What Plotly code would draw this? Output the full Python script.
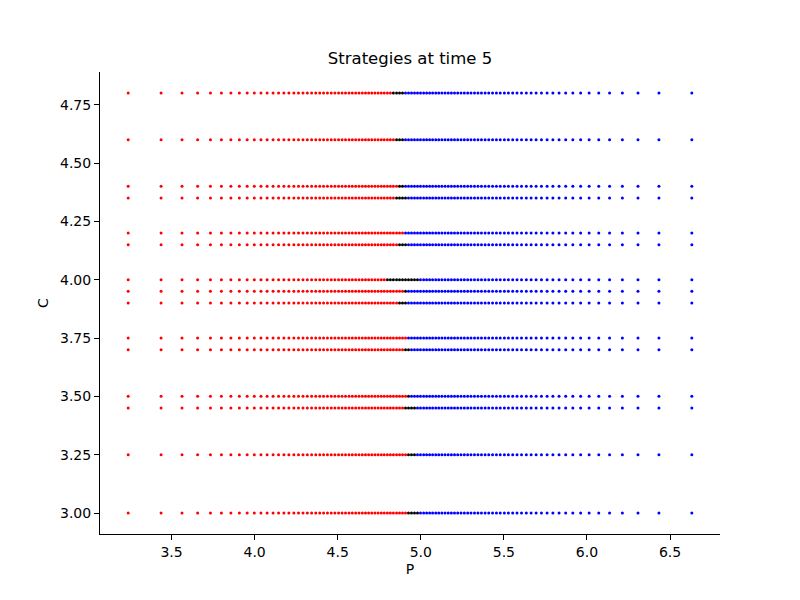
import plotly.graph_objects as go

# P values shared by every row (sorted ascending)
P_VALUES = [
    3.239, 3.437, 3.563, 3.657, 3.734, 3.800, 3.857, 3.908, 3.955, 3.998,
    4.038, 4.075, 4.111, 4.144, 4.176, 4.206, 4.236, 4.264, 4.291, 4.317,
    4.343, 4.368, 4.392, 4.415, 4.438, 4.461, 4.483, 4.505, 4.526, 4.547,
    4.568, 4.588, 4.608, 4.628, 4.648, 4.667, 4.686, 4.705, 4.724, 4.743,
    4.762, 4.780, 4.799, 4.817, 4.835, 4.854, 4.872, 4.890, 4.908, 4.926,
    4.944, 4.962, 4.980, 4.998, 5.017, 5.035, 5.053, 5.071, 5.090, 5.108,
    5.127, 5.146, 5.165, 5.184, 5.203, 5.222, 5.242, 5.262, 5.282, 5.302,
    5.323, 5.344, 5.365, 5.387, 5.409, 5.432, 5.455, 5.478, 5.503, 5.527,
    5.553, 5.579, 5.606, 5.635, 5.664, 5.694, 5.726, 5.760, 5.795, 5.832,
    5.872, 5.915, 5.962, 6.013, 6.071, 6.136, 6.213, 6.307, 6.433, 6.631,
]

# C levels (rows) and, per row, how many lowest-P points are red / then black
C_LEVELS = [4.8, 4.6, 4.4, 4.35, 4.2, 4.15, 4.0, 3.95, 3.9, 3.75, 3.7, 3.5, 3.45, 3.25, 3.0]
N_RED = [44, 45, 46, 45, 48, 46, 42, 48, 46, 49, 48, 49, 48, 49, 49]
N_BLACK = [4, 3, 2, 4, 0, 3, 11, 1, 3, 0, 2, 1, 4, 3, 4]

X_TICKS = [3.5, 4.0, 4.5, 5.0, 5.5, 6.0, 6.5]
Y_TICKS = [3.00, 3.25, 3.50, 3.75, 4.00, 4.25, 4.50, 4.75]

groups = {"red": ([], []), "black": ([], []), "blue": ([], [])}
for c, nr, nb in zip(C_LEVELS, N_RED, N_BLACK):
    for k, p in enumerate(P_VALUES):
        if k < nr:
            g = "red"
        elif k < nr + nb:
            g = "black"
        else:
            g = "blue"
        groups[g][0].append(p)
        groups[g][1].append(c)

colors = {"red": "#ff0000", "black": "#000000", "blue": "#0000ff"}
fig = go.Figure()
for g in ["red", "black", "blue"]:
    xs, ys = groups[g]
    fig.add_trace(go.Scatter(
        x=xs, y=ys, mode="markers", name=g, showlegend=False,
        marker=dict(color=colors[g], size=3, line=dict(width=0)),
        hoverinfo="x+y",
    ))

xmin, xmax = min(P_VALUES), max(P_VALUES)
xpad = 0.05 * (xmax - xmin)
ymin, ymax = min(C_LEVELS), max(C_LEVELS)
ypad = 0.05 * (ymax - ymin)

font = "DejaVu Sans, sans-serif"
fig.update_layout(
    width=800, height=600,
    margin=dict(l=100, r=80, t=72, b=66),
    paper_bgcolor="white", plot_bgcolor="white",
    font=dict(family=font, size=14, color="black"),
    title=dict(text="Strategies at time 5", x=0.5125, xanchor="center",
               y=1 - 58 / 600, yanchor="middle", yref="container",
               font=dict(size=16.5, family=font, color="black")),
    xaxis=dict(range=[xmin - xpad, xmax + xpad], tickvals=X_TICKS,
               ticktext=[f"{v:.1f}" for v in X_TICKS],
               showgrid=False, zeroline=False, showline=True, linecolor="black",
               linewidth=1, ticks="outside", ticklen=5, tickwidth=1, tickcolor="black",
               title=dict(text="P", standoff=5, font=dict(size=14)),
               mirror=False),
    yaxis=dict(range=[ymin - ypad, ymax + ypad], tickvals=Y_TICKS,
               ticktext=[f"{v:.2f}" for v in Y_TICKS],
               showgrid=False, zeroline=False, showline=True, linecolor="black",
               linewidth=1, ticks="outside", ticklen=5, tickwidth=1, tickcolor="black",
               title=dict(text="C", standoff=8, font=dict(size=14)),
               mirror=False),
)

fig.write_html("out.html")
